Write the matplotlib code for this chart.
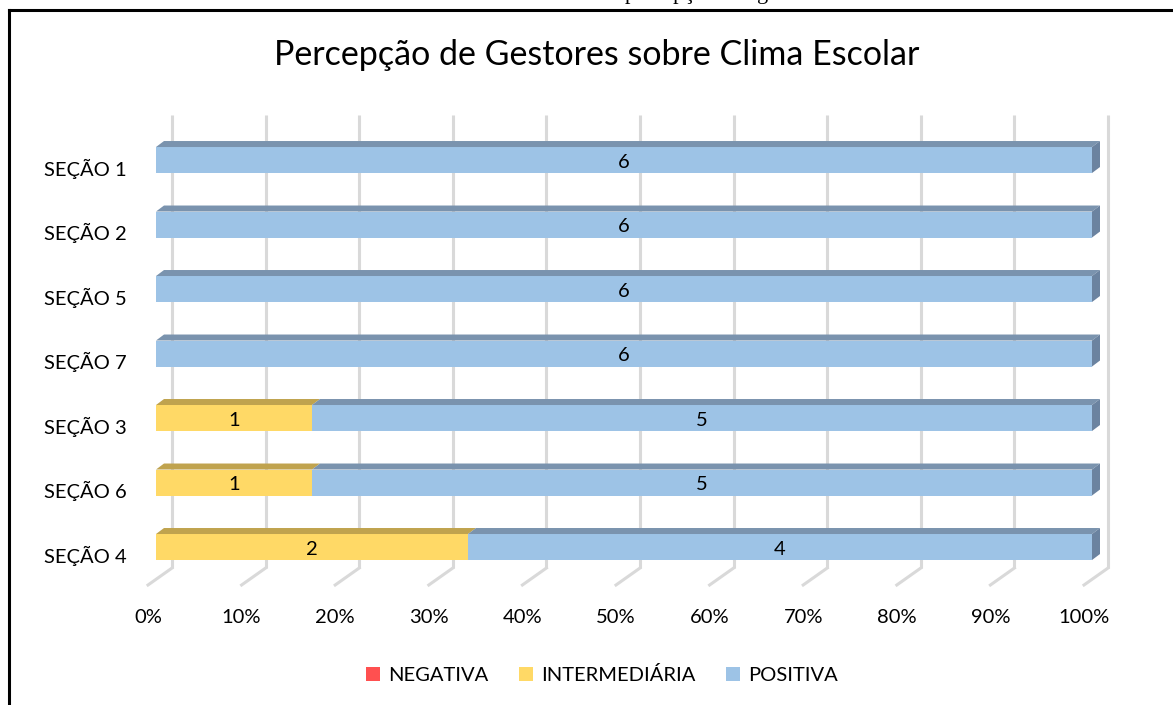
import numpy as np
import matplotlib.pyplot as plt
from matplotlib.patches import Polygon, Patch
from matplotlib.lines import Line2D
import matplotlib.transforms as mtransforms

plt.rcParams['font.family'] = ['Lato', 'DejaVu Sans']

secoes = ['SEÇÃO 1', 'SEÇÃO 2', 'SEÇÃO 5', 'SEÇÃO 7', 'SEÇÃO 3', 'SEÇÃO 6', 'SEÇÃO 4']
negativa = [0, 0, 0, 0, 0, 0, 0]
intermediaria = [0, 0, 0, 0, 1, 1, 2]
positiva = [6, 6, 6, 6, 5, 5, 4]
series_names = ['NEGATIVA', 'INTERMEDIÁRIA', 'POSITIVA']
x_ticks = [0, 10, 20, 30, 40, 50, 60, 70, 80, 90, 100]

# front, top, side colours for each series
cores = {
    'NEGATIVA': ('#FF5050', '#C03C3C', '#A83434'),
    'INTERMEDIÁRIA': ('#FFD966', '#C0A34E', '#A88F44'),
    'POSITIVA': ('#9DC3E6', '#7A93AE', '#6B83A0'),
}

W, H = 1173, 705
fig = plt.figure(figsize=(W / 100, H / 100), dpi=100)

# x 0..100 -> front face 156..1092 px (axes padded by 2 units each side),
# y from 115 to 585 px
sx = (1092 - 156) / 100
xmin, xmax = -2, 102
ax = fig.add_axes([(156 + xmin * sx) / W, 1 - 585 / H, (xmax - xmin) * sx / W, (585 - 115) / H])
for s in ax.spines.values():
    s.set_visible(False)

px_x = 1 / sx         # data units per pixel (x)
px_y = 1 / 64.5       # data units per pixel (y)
dx, dy = 8 * px_x, 6 * px_y
bar_h = 26 * px_y

# back wall gridlines + floor diagonals
back = 16 * px_x
y_top, y_floor, y_front = -0.698, 6.326, 6.589
for t in x_ticks:
    ax.plot([t + back, t + back], [y_top, y_floor], color='#D9D9D9', lw=2.2, zorder=0,
            solid_capstyle='butt', clip_on=False)
    ax.plot([t + back, t - 8 * px_x], [y_floor, y_front], color='#D9D9D9', lw=2.2, zorder=0,
            clip_on=False)

totais = np.array(negativa) + np.array(intermediaria) + np.array(positiva)
for i in range(len(secoes)):
    left = 0.0
    for nome, vals in zip(series_names, [negativa, intermediaria, positiva]):
        v = vals[i]
        if v == 0:
            continue
        w = v / totais[i] * 100
        front, top, side = cores[nome]
        ax.barh(i, w, left=left, height=bar_h, color=front, edgecolor='none', zorder=2)
        y0 = i - bar_h / 2
        ax.add_patch(Polygon([[left, y0], [left + w, y0], [left + w + dx, y0 - dy],
                              [left + dx, y0 - dy]], closed=True, color=top, lw=0, zorder=2,
                             clip_on=False))
        ax.text(left + w / 2, i + 2 * px_y, str(v), ha='center', va='center',
                fontsize=14.5, color='black', zorder=3)
        left += w
    y0 = i - bar_h / 2
    ax.add_patch(Polygon([[100, y0], [100 + dx, y0 - dy], [100 + dx, y0 + bar_h - dy],
                          [100, y0 + bar_h]], closed=True, color=cores['POSITIVA'][2],
                         lw=0, zorder=2, clip_on=False))

ax.set_yticks(range(len(secoes)))
ax.set_yticklabels(secoes, fontsize=14.5)
ax.tick_params(axis='y', length=0, pad=21 - 2 * sx * 0.72)
offset = mtransforms.ScaledTranslation(0, -7 / 100, fig.dpi_scale_trans)
for lab in ax.get_yticklabels():
    lab.set_transform(lab.get_transform() + offset)

ax.set_xticks([t - 8 * px_x for t in x_ticks])
ax.set_xticklabels([f'{t}%' for t in x_ticks], fontsize=14.5)
ax.tick_params(axis='x', length=0, pad=17)

# limits set after the ticks so the ticks don't widen them
ax.set_xlim(xmin, xmax)
ax.set_ylim(6.589, -0.698)

fig.text(597 / W, 1 - 55 / H, 'Percepção de Gestores sobre Clima Escolar',
         ha='center', va='center', fontsize=24.5)

handles = [Patch(facecolor=cores[n][0], edgecolor='none') for n in series_names]
fig.legend(handles, series_names, loc='center', bbox_to_anchor=(602 / W, 1 - 675 / H),
           ncol=3, frameon=False, fontsize=14.5, handlelength=0.7, handleheight=0.7,
           handletextpad=0.4, columnspacing=1.5)

# frame border
fig.add_artist(Line2D([9 / W, 1], [1 - 10 / H, 1 - 10 / H], color='black', lw=2.2))
fig.add_artist(Line2D([9 / W, 9 / W], [1 - 10 / H, 0], color='black', lw=2.2))

# caption above, cut off by the page
fig.text(625 / W, 1 + 1 / H, 'percepção dos gestores', ha='left', va='baseline',
         fontsize=16, family='Liberation Serif')

fig.savefig('out.png', dpi=100)
